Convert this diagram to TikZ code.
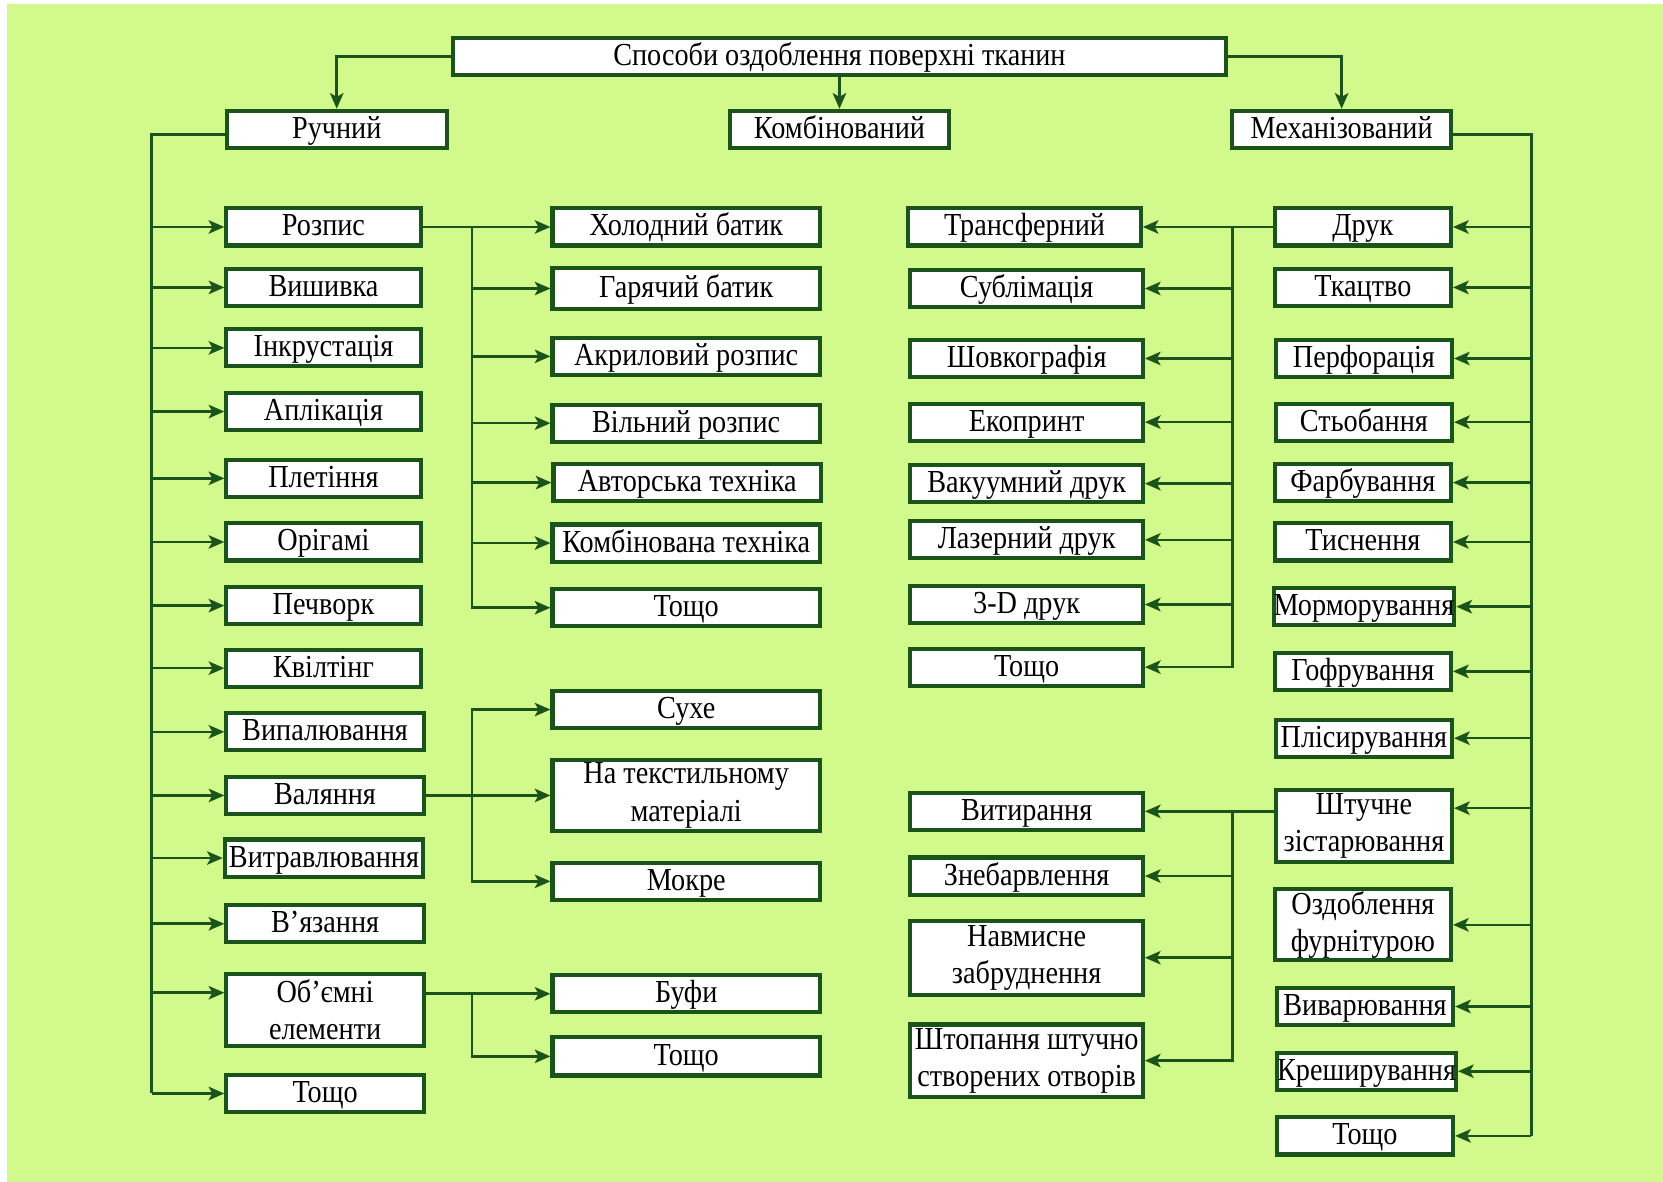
\documentclass[tikz,border=0pt]{standalone}
\usepackage{fontspec}
\setmainfont[FakeStretch=0.88]{Liberation Serif}
\usetikzlibrary{arrows.meta}
\definecolor{bggreen}{RGB}{210,249,140}
\definecolor{dgreen}{RGB}{26,84,26}
\tikzset{
  box/.style={draw=dgreen, line width=1.1pt, fill=white, inner xsep=1pt, inner ysep=0.5pt,
    align=center, minimum height=0.34cm, text height=1.5ex, text depth=0.45ex,
    font=\fontsize{8.6pt}{10pt}\selectfont},
  two/.style={text height={}, text depth={}},
  lbox/.style={box, minimum width=1.83cm},
  mbox/.style={box, minimum width=2.52cm},
  nbox/.style={box, minimum width=2.19cm},
  rbox/.style={box, minimum width=1.66cm},
  link/.style={draw=dgreen, line width=0.7pt},
  arr/.style={link, -{Stealth[length=4.2pt,width=3.6pt,inset=1pt]}}
}
\begin{document}
\begin{tikzpicture}[x=0.01cm, y=-0.01cm]
  \useasboundingbox (0,0) rectangle (1568,1114);
  \fill[bggreen] (7,4) rectangle (1568,1114);

  % top level
  \node[box, minimum width=7.29cm] (title) at (791.5,53) {Способи оздоблення поверхні тканин};
  \node[box, minimum width=2.07cm] (ruchnyi) at (317.5,122) {Ручний};
  \node[box, minimum width=2.07cm] (kombin) at (791.5,122) {Комбінований};
  \node[box, minimum width=2.06cm] (mekh) at (1265,122) {Механізований};

  % hand methods
  \node[lbox] (rozpys) at (305,214) {Розпис};
  \node[lbox] (vyshyvka) at (305,271) {Вишивка};
  \node[lbox] (inkrust) at (305,328) {Інкрустація};
  \node[lbox] (aplik) at (305,388) {Аплікація};
  \node[lbox] (pletinnya) at (305,451) {Плетіння};
  \node[lbox] (origami) at (305,511) {Орігамі};
  \node[lbox] (pechvork) at (305,571) {Печворк};
  \node[lbox] (kviltynh) at (305,630) {Квілтінг};
  \node[lbox, minimum width=1.86cm] (vypal) at (306.5,690) {Випалювання};
  \node[lbox, minimum width=1.86cm] (valyannya) at (306.5,750) {Валяння};
  \node[lbox, minimum width=1.87cm, inner xsep=0pt] (vytrav) at (305.5,809) {Витравлювання};
  \node[lbox, minimum width=1.86cm] (vyazannya) at (306.5,871) {В’язання};
  \node[lbox, two, minimum width=1.86cm, minimum height=0.68cm] (obiemni) at (306.5,952) {Об’ємні\\елементи};
  \node[lbox, minimum width=1.86cm] (tosh1) at (306.5,1031) {Тощо};

  % painting
  \node[mbox] (kholod) at (647,214) {Холодний батик};
  \node[mbox, minimum height=0.38cm] (garyach) at (647,272) {Гарячий батик};
  \node[mbox] (akryl) at (647,336) {Акриловий розпис};
  \node[mbox] (vilny) at (647,399) {Вільний розпис};
  \node[mbox] (avtor) at (648,455) {Авторська техніка};
  \node[mbox] (kombt) at (647,512) {Комбінована техніка};
  \node[mbox] (tosh2) at (647,573) {Тощо};

  % felting
  \node[mbox] (sukhe) at (647,669) {Сухе};
  \node[mbox, two, minimum height=0.67cm] (natekst) at (647,750) {На текстильному\\матеріалі};
  \node[mbox] (mokre) at (647,831) {Мокре};

  % volume elements
  \node[mbox] (bufy) at (647,937) {Буфи};
  \node[mbox, minimum height=0.36cm] (tosh3) at (647,996) {Тощо};

  % printing
  \node[nbox] (transf) at (966,214) {Трансферний};
  \node[nbox] (sublim) at (968,272) {Сублімація};
  \node[nbox] (shovk) at (968,338) {Шовкографія};
  \node[nbox] (ekopr) at (968,398) {Екопринт};
  \node[nbox] (vakuum) at (968,456) {Вакуумний друк};
  \node[nbox] (lazer) at (968,509) {Лазерний друк};
  \node[nbox] (tridruk) at (968,570) {3-D друк};
  \node[nbox] (tosh4) at (968,629) {Тощо};

  % ageing
  \node[nbox] (vytyr) at (968,765) {Витирання};
  \node[nbox] (znebarv) at (968,826) {Знебарвлення};
  \node[nbox, two, minimum height=0.70cm] (navmysne) at (968,903) {Навмисне\\забруднення};
  \node[nbox, two, minimum height=0.68cm, inner xsep=0pt] (shtop) at (968,1000) {Штопання штучно\\створених отворів};

  % machine methods
  \node[rbox] (druk) at (1285,214) {Друк};
  \node[rbox] (tkats) at (1285,271) {Ткацтво};
  \node[rbox] (perfor) at (1286,338) {Перфорація};
  \node[rbox] (stob) at (1286,398) {Стьобання};
  \node[rbox] (farb) at (1285,455) {Фарбування};
  \node[rbox] (tysn) at (1285,511) {Тиснення};
  \node[rbox, inner xsep=0pt] (mormor) at (1286,572) {Морморування};
  \node[rbox] (hofr) at (1285,633) {Гофрування};
  \node[rbox, inner xsep=0pt] (plis) at (1286,696) {Плісирування};
  \node[rbox, two, minimum height=0.68cm] (shtuchne) at (1286,779) {Штучне\\зістарювання};
  \node[rbox, two, minimum height=0.67cm] (ozdobl) at (1285,872) {Оздоблення\\фурнітурою};
  \node[rbox, inner xsep=0pt] (vyvar) at (1287,949) {Виварювання};
  \node[rbox, inner xsep=0pt] (kresh) at (1288.5,1010) {Креширування};
  \node[rbox] (tosh5) at (1287,1071) {Тощо};

  % trunks and branches
  \coordinate (lt) at (143,0);
  \coordinate (lb) at (445,0);
  \coordinate (rb) at (1162,0);
  \coordinate (rt) at (1444,0);

  \draw[arr] (title.west) -| (ruchnyi.north);
  \draw[arr] (title.south) -- (kombin.north);
  \draw[arr] (title.east) -| (mekh.north);

  \draw[link] ([yshift=-0.05cm]ruchnyi.west) -| (lt |- tosh1.west);
  \foreach \n in {rozpys,vyshyvka,inkrust,aplik,pletinnya,origami,pechvork,kviltynh,vypal,valyannya,vytrav,vyazannya,tosh1}
    \draw[arr] (lt |- \n.west) -- (\n.west);
  \draw[arr] ([yshift=0.16cm]obiemni.west -| lt) -- ([yshift=0.16cm]obiemni.west);

  \draw[arr] (rozpys.east) -- (kholod.west);
  \foreach \n in {garyach,akryl,vilny,avtor,kombt,tosh2}
    \draw[arr] (lb |- kholod.west) |- (\n.west);

  \draw[arr] (valyannya.east) -- (natekst.west);
  \foreach \n in {sukhe,mokre}
    \draw[arr] (lb |- natekst.west) |- (\n.west);

  \draw[arr] (obiemni.east |- bufy.west) -- (bufy.west);
  \draw[arr] (lb |- bufy.west) |- (tosh3.west);

  \draw[link] ([yshift=-0.05cm]mekh.east) -| (rt |- tosh5.east);
  \foreach \n in {druk,tkats,perfor,stob,farb,tysn,mormor,hofr,plis,ozdobl,vyvar,kresh,tosh5}
    \draw[arr] (rt |- \n.east) -- (\n.east);
  \draw[arr] ([yshift=0.17cm]shtuchne.east -| rt) -- ([yshift=0.17cm]shtuchne.east);

  \draw[arr] (druk.west) -- (transf.east);
  \foreach \n in {sublim,shovk,ekopr,vakuum,lazer,tridruk,tosh4}
    \draw[arr] (rb |- transf.east) |- (\n.east);

  \draw[arr] (shtuchne.west |- vytyr.east) -- (vytyr.east);
  \foreach \n in {znebarv,navmysne,shtop}
    \draw[arr] (rb |- vytyr.east) |- (\n.east);
\end{tikzpicture}
\end{document}
